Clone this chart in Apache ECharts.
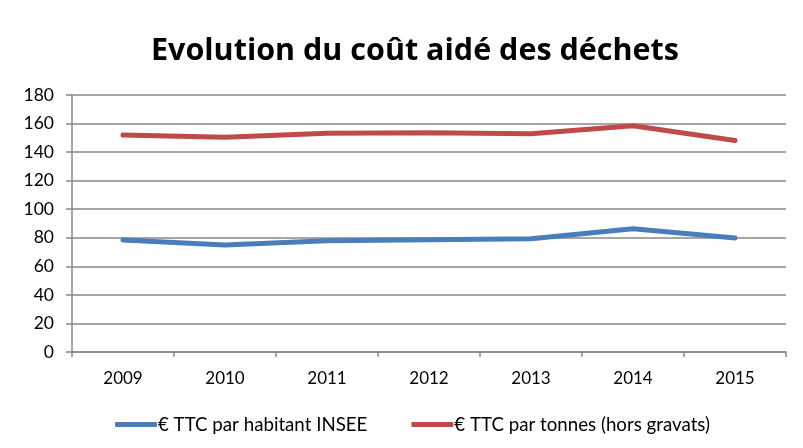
<!DOCTYPE html>
<html>
<head>
<meta charset="utf-8">
<script src="https://cdn.jsdelivr.net/npm/echarts@6/dist/echarts.min.js"></script>
<style>
  html, body { margin: 0; padding: 0; background: #fff; }
  #chart { width: 803px; height: 448px; }
</style>
</head>
<body>
<div id="chart"></div>
<script>
var years = ['2009', '2010', '2011', '2012', '2013', '2014', '2015'];
var parHabitant = [78.5, 75, 78, 78.7, 79.3, 86.3, 79.8];
var parTonne = [152, 150.4, 153.2, 153.5, 152.8, 158.5, 148.1];
var yTicks = { min: 0, max: 180, step: 20 };

var chart = echarts.init(document.getElementById('chart'));
var font = 'Lato, "Open Sans", sans-serif';

chart.setOption({
    animation: false,
    title: {
        text: 'Evolution du coût aidé des déchets',
        left: 146,
        top: 31,
        textStyle: { fontFamily: '"Open Sans", sans-serif', fontSize: 30.5, fontWeight: 'bold', color: '#000' }
    },
    legend: {
        bottom: 9,
        left: 110,
        itemGap: 44,
        itemWidth: 42,
        itemHeight: 5,
        icon: 'roundRect',
        textStyle: { fontFamily: font, fontSize: 18.7, color: '#000', padding: [0, 0, 0, -4] },
        data: ['€ TTC par habitant INSEE', '€ TTC par tonnes (hors gravats)']
    },
    grid: { left: 72, right: 17, top: 95, bottom: 96 },
    xAxis: {
        type: 'category',
        data: years,
        boundaryGap: true,
        axisLine: { lineStyle: { color: '#888', width: 1.5 } },
        axisTick: { show: true, length: 5, lineStyle: { color: '#888', width: 1.5 } },
        axisLabel: { fontFamily: font, fontSize: 17, color: '#000', margin: 18 }
    },
    yAxis: {
        type: 'value',
        min: yTicks.min,
        max: yTicks.max,
        interval: yTicks.step,
        axisLine: { show: true, lineStyle: { color: '#888', width: 1.5 } },
        axisTick: { show: true, length: 6, lineStyle: { color: '#888', width: 1.5 } },
        axisLabel: { fontFamily: font, fontSize: 17.5, color: '#000', margin: 18 },
        splitLine: { lineStyle: { color: '#888', width: 1.5 } }
    },
    series: [
        {
            name: '€ TTC par habitant INSEE',
            type: 'line',
            data: parHabitant,
            symbol: 'none',
            color: '#4a7ebb',
            lineStyle: { width: 5, color: '#4a7ebb', cap: 'round' }
        },
        {
            name: '€ TTC par tonnes (hors gravats)',
            type: 'line',
            data: parTonne,
            symbol: 'none',
            color: '#be4b48',
            lineStyle: { width: 5, color: '#be4b48', cap: 'round' }
        }
    ]
});
</script>
</body>
</html>
